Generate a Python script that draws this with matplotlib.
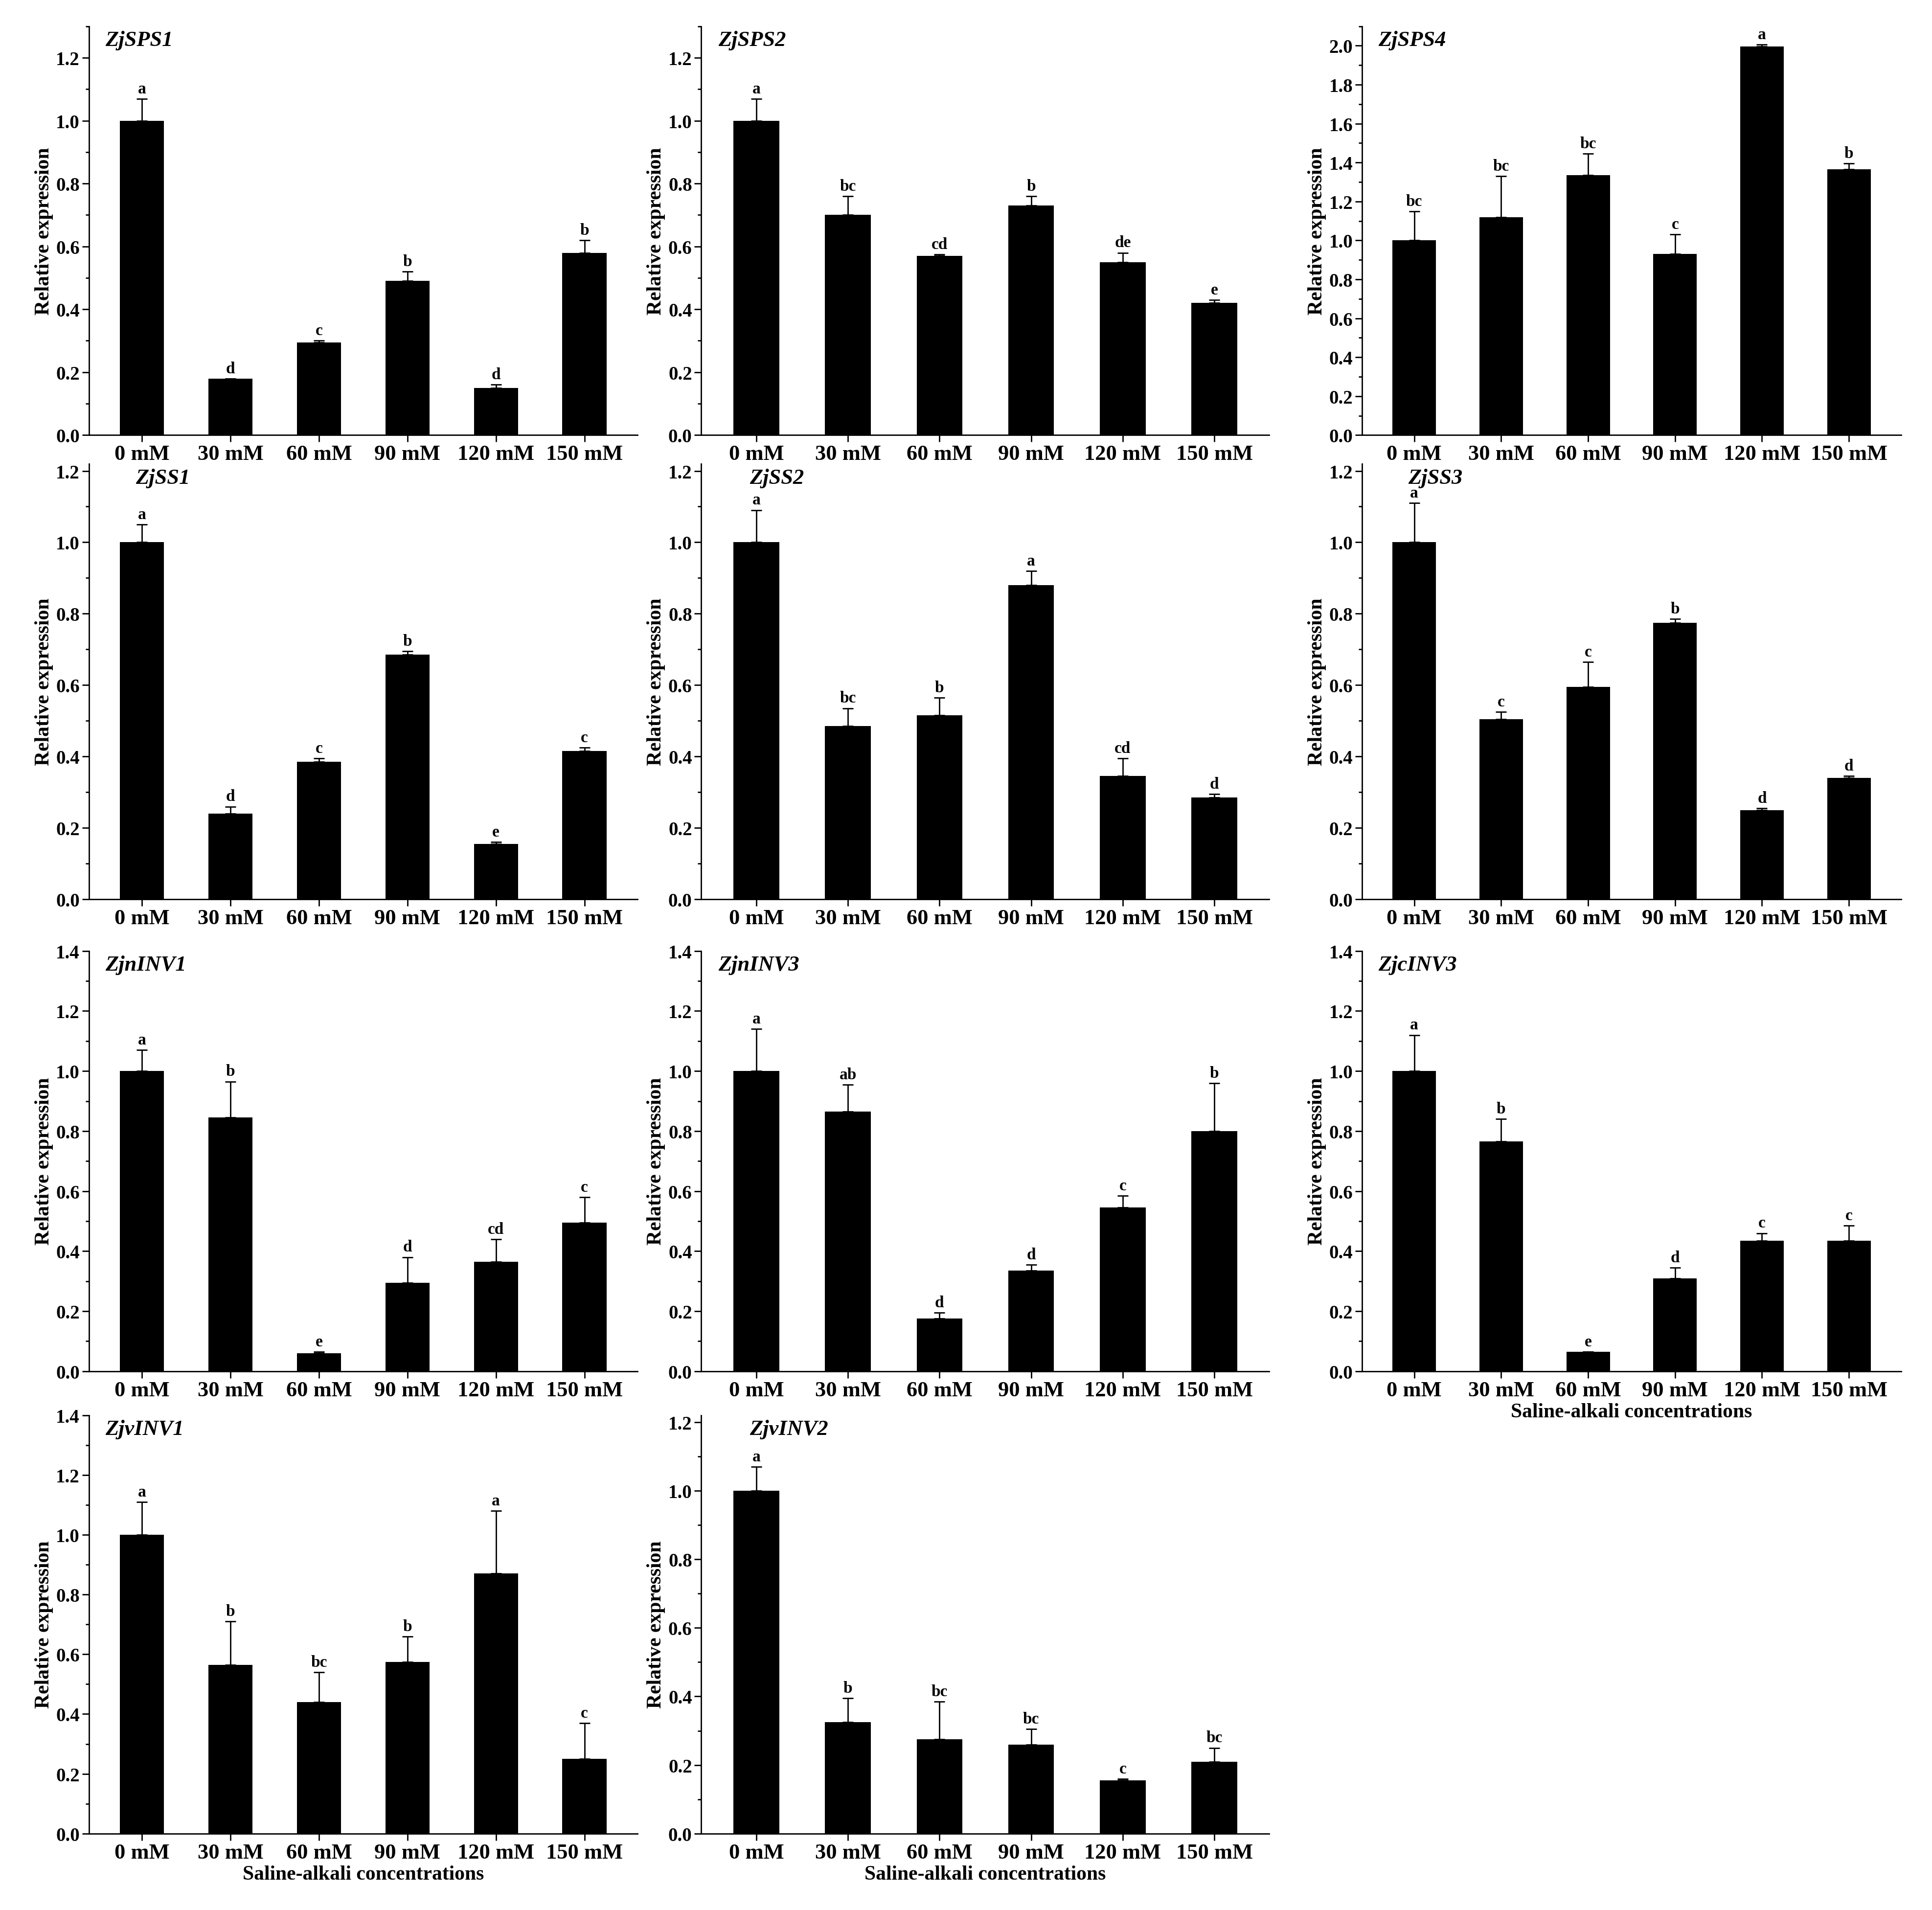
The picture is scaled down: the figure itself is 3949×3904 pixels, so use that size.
import matplotlib
matplotlib.use("Agg")
import matplotlib.pyplot as plt
from matplotlib.ticker import MultipleLocator

plt.rcParams['font.family'] = ['Liberation Serif', 'DejaVu Serif']
plt.rcParams['font.weight'] = 'bold'

categories = ["0 mM", "30 mM", "60 mM", "90 mM", "120 mM", "150 mM"]

genes = ["ZjSPS1", "ZjSPS2", "ZjSPS4", "ZjSS1", "ZjSS2", "ZjSS3",
         "ZjnINV1", "ZjnINV3", "ZjcINV3", "ZjvINV1", "ZjvINV2"]

vals_SPS1 = [1.0, 0.18, 0.295, 0.49, 0.15, 0.58]
err_SPS1 = [0.07, 0.0, 0.005, 0.03, 0.01, 0.04]
let_SPS1 = ["a", "d", "c", "b", "d", "b"]
vals_SPS2 = [1.0, 0.70, 0.57, 0.73, 0.55, 0.42]
err_SPS2 = [0.07, 0.06, 0.005, 0.03, 0.03, 0.01]
let_SPS2 = ["a", "bc", "cd", "b", "de", "e"]
vals_SPS4 = [1.0, 1.12, 1.335, 0.93, 1.995, 1.365]
err_SPS4 = [0.15, 0.21, 0.11, 0.10, 0.01, 0.03]
let_SPS4 = ["bc", "bc", "bc", "c", "a", "b"]
vals_SS1 = [1.0, 0.24, 0.385, 0.685, 0.155, 0.415]
err_SS1 = [0.05, 0.02, 0.01, 0.01, 0.005, 0.01]
let_SS1 = ["a", "d", "c", "b", "e", "c"]
vals_SS2 = [1.0, 0.485, 0.515, 0.88, 0.345, 0.285]
err_SS2 = [0.09, 0.05, 0.05, 0.04, 0.05, 0.01]
let_SS2 = ["a", "bc", "b", "a", "cd", "d"]
vals_SS3 = [1.0, 0.505, 0.595, 0.775, 0.25, 0.34]
err_SS3 = [0.11, 0.02, 0.07, 0.01, 0.005, 0.005]
let_SS3 = ["a", "c", "c", "b", "d", "d"]
vals_nINV1 = [1.0, 0.845, 0.06, 0.295, 0.365, 0.495]
err_nINV1 = [0.07, 0.12, 0.005, 0.085, 0.075, 0.085]
let_nINV1 = ["a", "b", "e", "d", "cd", "c"]
vals_nINV3 = [1.0, 0.865, 0.175, 0.335, 0.545, 0.80]
err_nINV3 = [0.14, 0.09, 0.02, 0.02, 0.04, 0.16]
let_nINV3 = ["a", "ab", "d", "d", "c", "b"]
vals_cINV3 = [1.0, 0.765, 0.065, 0.31, 0.435, 0.435]
err_cINV3 = [0.12, 0.075, 0.0, 0.035, 0.025, 0.05]
let_cINV3 = ["a", "b", "e", "d", "c", "c"]
vals_vINV1 = [1.0, 0.565, 0.44, 0.575, 0.87, 0.25]
err_vINV1 = [0.11, 0.145, 0.10, 0.085, 0.21, 0.12]
let_vINV1 = ["a", "b", "bc", "b", "a", "c"]
vals_vINV2 = [1.0, 0.325, 0.275, 0.26, 0.155, 0.21]
err_vINV2 = [0.07, 0.07, 0.11, 0.045, 0.005, 0.04]
let_vINV2 = ["a", "b", "bc", "bc", "c", "bc"]

data = [(vals_SPS1, err_SPS1, let_SPS1), (vals_SPS2, err_SPS2, let_SPS2),
        (vals_SPS4, err_SPS4, let_SPS4), (vals_SS1, err_SS1, let_SS1),
        (vals_SS2, err_SS2, let_SS2), (vals_SS3, err_SS3, let_SS3),
        (vals_nINV1, err_nINV1, let_nINV1), (vals_nINV3, err_nINV3, let_nINV3),
        (vals_cINV3, err_cINV3, let_cINV3), (vals_vINV1, err_vINV1, let_vINV1),
        (vals_vINV2, err_vINV2, let_vINV2)]
ytops = [1.3, 1.3, 2.1, 1.22, 1.22, 1.22, 1.4, 1.4, 1.4, 1.4, 1.22]
xlabeled = {8, 9, 10}

fig = plt.figure(figsize=(39.49, 39.05), dpi=100)
lefts = [0.046, 0.363, 0.705]
widths = [0.284, 0.294, 0.279]
rows = [(0.772, 0.986), (0.529, 0.757), (0.282, 0.502), (0.040, 0.259)]

fs = 30
for i, (g, (v, e, l)) in enumerate(zip(genes, data)):
    r, c = divmod(i, 3)
    b, t = rows[r]
    ax = fig.add_axes([lefts[c], b, widths[c], t - b])
    x = range(len(categories))
    ax.bar(x, v, width=0.5, color='black', yerr=[[0]*6, e],
           error_kw=dict(ecolor='black', elinewidth=2, capsize=8, capthick=2))
    top = ytops[i]
    for xi, vi, ei, li in zip(x, v, e, l):
        ax.text(xi, vi + ei + top * 0.006, li, ha='center', va='bottom',
                fontsize=fs - 6, fontweight='bold')
    ax.set_ylim(0, top)
    ax.set_xlim(-0.6, 5.6)
    ax.yaxis.set_major_locator(MultipleLocator(0.2))
    ax.yaxis.set_minor_locator(MultipleLocator(0.1))
    ax.set_xticks(list(x))
    ax.set_xticklabels(categories, fontsize=fs + 2, fontweight='bold')
    ax.tick_params(axis='y', labelsize=fs - 2, width=2, length=10)
    ax.tick_params(axis='y', which='minor', width=2, length=5)
    ax.tick_params(axis='x', width=2, length=10)
    ax.yaxis.set_major_formatter(matplotlib.ticker.FormatStrFormatter('%.1f'))
    for s in ['top', 'right']:
        ax.spines[s].set_visible(False)
    for s in ['left', 'bottom']:
        ax.spines[s].set_linewidth(2)
    ax.set_ylabel("Relative expression", fontsize=fs, fontweight='bold')
    tx = 0.085 if r == 1 or i == 10 else 0.03
    ax.text(tx, 0.99, g, transform=ax.transAxes, ha='left', va='top',
            fontsize=fs + 2, fontweight='bold', style='italic')
    if i in xlabeled:
        ax.set_xlabel("Saline-alkali concentrations", fontsize=fs, fontweight='bold')

fig.savefig("out.png", dpi=100)
